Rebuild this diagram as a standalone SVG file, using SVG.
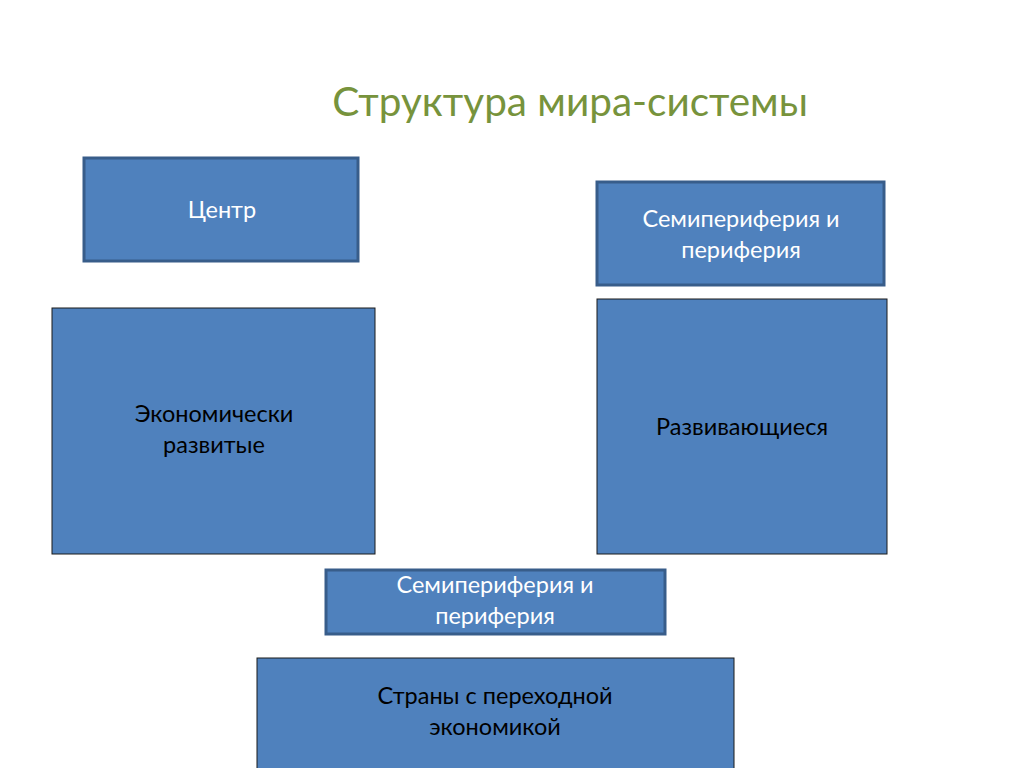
<svg xmlns="http://www.w3.org/2000/svg" width="1024" height="768" viewBox="0 0 1024 768">
<style>
.title{font-family:Lato,"Open Sans","Noto Sans",sans-serif;font-size:40.5px;fill:#77933c;text-anchor:middle}
.small rect{fill:#4f81bd;stroke:#385d8a;stroke-width:3}
.big rect{fill:#4f81bd;stroke:#1a1a1a;stroke-width:1}
.small text{font-family:Lato,"Open Sans","Noto Sans",sans-serif;font-size:23.5px;fill:#ffffff;text-anchor:middle}
.big text{font-family:Lato,"Open Sans","Noto Sans",sans-serif;font-size:23.5px;fill:#000000;text-anchor:middle}
</style>
<rect width="1024" height="768" fill="#ffffff"/>
<text class="title" x="570" y="116">Структура мира-системы</text>
<g id="connectors"/>
<g id="center" class="small">
<rect x="84" y="158" width="274" height="103"/>
<text x="222" y="218">Центр</text>
</g>
<g id="semi-top" class="small">
<rect x="597" y="182" width="287" height="103"/>
<text x="741" y="227">Семипериферия и</text>
<text x="741" y="258">периферия</text>
</g>
<g id="developed" class="big">
<rect x="52" y="308" width="323" height="246"/>
<text x="214" y="422">Экономически</text>
<text x="214" y="453">развитые</text>
</g>
<g id="developing" class="big">
<rect x="597" y="299" width="290" height="255"/>
<text x="742" y="435">Развивающиеся</text>
</g>
<g id="semi-bottom" class="small">
<rect x="326" y="570" width="339" height="64"/>
<text x="495" y="593">Семипериферия и</text>
<text x="495" y="624">периферия</text>
</g>
<g id="transition" class="big">
<rect x="257" y="658" width="477" height="120"/>
<text x="495" y="704">Страны с переходной</text>
<text x="495" y="735">экономикой</text>
</g>
</svg>
